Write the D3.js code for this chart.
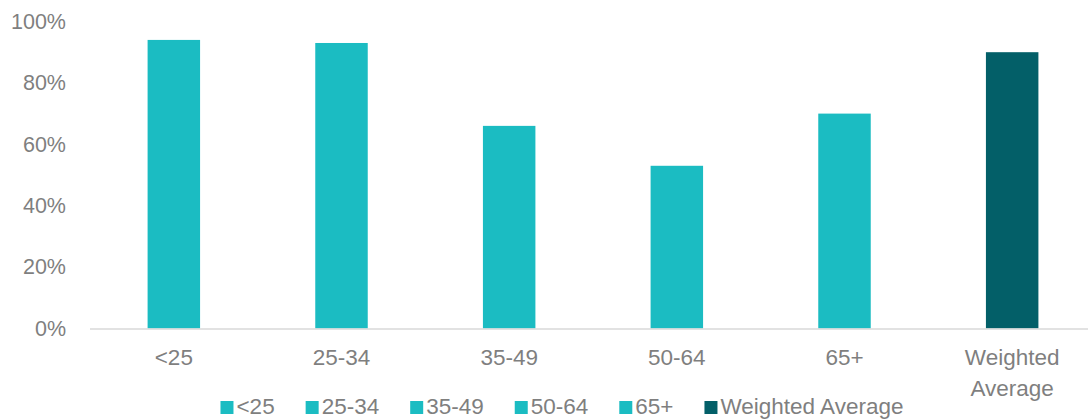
<!DOCTYPE html>
<html>
<head>
<meta charset="utf-8">
<script src="https://cdn.jsdelivr.net/npm/d3@7"></script>
<style>
  body { margin: 0; background: #fff; }
  text { font-family: "Liberation Sans", Arial, sans-serif; fill: #7f7f7f; }
</style>
</head>
<body>
<div id="chart"></div>
<script>
var categories = ["<25", "25-34", "35-49", "50-64", "65+", "Weighted Average"];
var values = [0.94, 0.93, 0.66, 0.53, 0.70, 0.90];
var yTicks = [0, 0.2, 0.4, 0.6, 0.8, 1.0];
var barColors = ["#1bbcc2", "#1bbcc2", "#1bbcc2", "#1bbcc2", "#1bbcc2", "#035f68"];

var width = 1088, height = 420;
var margin = {top: 21.5, right: -8, bottom: 91.5, left: 90};
var chartW = width - margin.left - margin.right,
    chartH = height - margin.top - margin.bottom;

var svg = d3.select('#chart').append('svg')
    .attr('width', width)
    .attr('height', height);

var g = svg.append('g')
    .attr('transform', 'translate(' + margin.left + ',' + margin.top + ')');

var x = d3.scaleBand()
    .domain(categories)
    .range([0, chartW])
    .paddingInner(0.687)
    .paddingOuter(0.3435);

var y = d3.scaleLinear()
    .domain([0, 1])
    .range([chartH, 0]);

// y axis labels only, no line
var yAxis = g.append('g')
    .call(d3.axisLeft(y).tickValues(yTicks).tickFormat(d3.format('.0%')).tickSize(0).tickPadding(24));
yAxis.select('.domain').remove();
yAxis.selectAll('text')
    .style('font-size', '21.5px')
    .attr('fill', '#7f7f7f');

g.selectAll('.bar')
    .data(values)
    .enter().append('rect')
    .attr('class', 'bar')
    .attr('x', function(d, i) { return x(categories[i]); })
    .attr('y', function(d) { return y(d); })
    .attr('width', x.bandwidth())
    .attr('height', function(d) { return chartH - y(d); })
    .attr('fill', function(d, i) { return barColors[i]; });

// baseline
g.append('line')
    .attr('x1', 0).attr('x2', chartW)
    .attr('y1', chartH + 0.5).attr('y2', chartH + 0.5)
    .attr('stroke', '#d9d9d9')
    .attr('stroke-width', 1.5);

// category labels (wrap Weighted Average)
var xl = g.selectAll('.xlab')
    .data(categories)
    .enter().append('text')
    .attr('class', 'xlab')
    .attr('text-anchor', 'middle')
    .style('font-size', '22.5px')
    .attr('x', function(d) { return x(d) + x.bandwidth() / 2; })
    .attr('y', chartH + 36);
xl.each(function(d) {
  var words = d.split(' ');
  var t = d3.select(this);
  words.forEach(function(w, k) {
    t.append('tspan')
      .attr('x', x(d) + x.bandwidth() / 2)
      .attr('dy', k === 0 ? 0 : 31)
      .text(w);
  });
});

// legend
var legend = svg.append('g').attr('class', 'legend');
var items = legend.selectAll('.item')
    .data(categories)
    .enter().append('g')
    .attr('class', 'item');
items.append('rect')
    .attr('width', 13).attr('height', 13)
    .attr('y', -13)
    .attr('fill', function(d, i) { return barColors[i]; });
items.append('text')
    .attr('x', 16)
    .style('font-size', '22.5px')
    .text(function(d) { return d; });

var pos = 0;
items.each(function() {
  var w = d3.select(this).select('text').node().getComputedTextLength();
  d3.select(this).attr('transform', 'translate(' + pos + ',0)');
  pos += 16 + w + 31;
});
var legW = pos - 31;
legend.attr('transform', 'translate(' + (562 - legW / 2) + ',414)');
</script>
</body>
</html>
